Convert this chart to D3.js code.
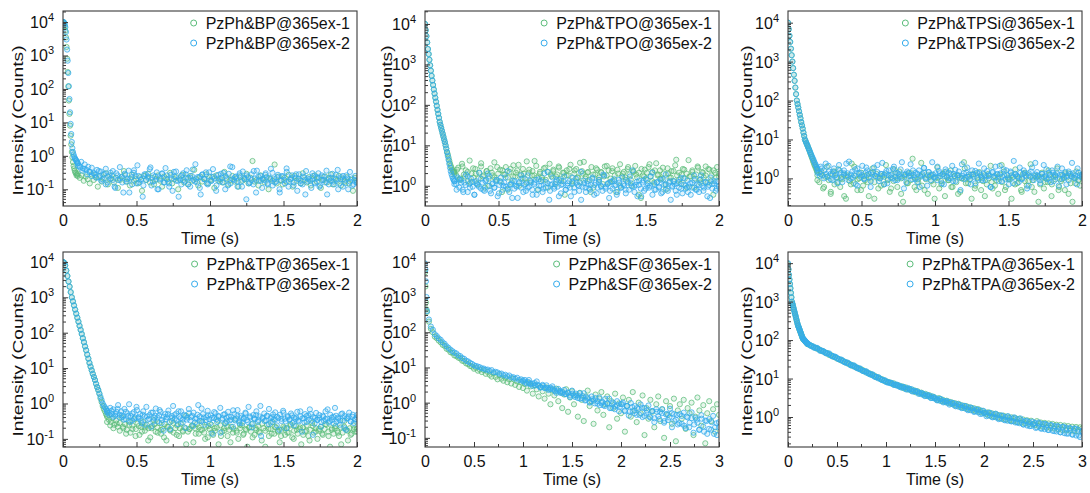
<!DOCTYPE html>
<html>
<head>
<meta charset="utf-8">
<script src="https://cdn.jsdelivr.net/npm/d3@7"></script>
<style>
  body { margin: 0; background: #fff; }
  svg { display: block; font-family: "Liberation Sans", Arial, sans-serif; }
</style>
</head>
<body>
<svg id="chart" width="1090" height="493"></svg>
<script>
// ---- data ----
const hosts = ['BP', 'TPO', 'TPSi', 'TP', 'SF', 'TPA'];
const timeMax = [2, 2, 2, 2, 3, 3];
// y domain as log10 exponents [bottom, top]
const yLogDomain = [[-1.5, 4.33], [-0.5, 4.32], [-0.71, 4.3], [-1.23, 4.28], [-1.26, 4.28], [-0.78, 4.29]];
const yTickExp = [[-1, 4], [0, 4], [0, 4], [-1, 4], [-1, 4], [0, 4]];
// time spans of the sampled segments of every curve
const headSpans = [[0, 0.1], [0, 0.2], [0, 0.2], [0, 0.3], [0, 0.015], [0, 0.2]];
const tailSpans = [[0.1, 2], [0.2, 2], [0.2, 2], [0.3, 2], [0.02, 3], [0.2, 3]];
const extraSpans = [[0.1, 2], [0.2, 2], [0.2, 2], [0.3, 2], [1, 3], [0.2, 3]];

// PzPh&BP
const bp1Head = [10000,9800,9000,7500,5500,3500,1800,800,320,120,45,18,8,4,2.2,1.3,0.9,0.65,0.5,0.42,0.36,0.32,0.3,0.26,0.28,0.25];
const bp2Head = [10000,10000,9500,8500,7000,5000,3000,1500,700,300,120,50,20,9,4.5,2.6,1.7,1.3,1.1,0.95,0.85,0.8,0.75,0.7,0.65,0.6];
const bp1Tail = [.3,.22,.26,.18,.24,.2,.15,.28,.19,.23,.12,.25,.17,.21,.3,.14,.2,.26,.16,.22,
  .11,.19,.24,.35,.17,.21,.13,.27,.18,.2,.15,.23,.09,.25,.19,.29,.16,.22,.14,.2,
  .26,.18,.12,.24,.21,.17,.31,.15,.2,.23,.1,.19,.27,.16,.22,.14,.25,.18,.38,.2,
  .13,.24,.17,.21,.28,.15,.19,.23,.11,.26,.18,.2,.16,.33,.22,.14,.19,.25,.17,.21,
  .12,.24,.18,.2,.29,.15,.22,.7,.17,.19,.13,.26,.2,.16,.23,.1,.21,.18,.55,.15,
  .24,.19,.14,.22,.17,.27,.2,.12,.25,.18,.21,.15,.3,.19,.16,.23,.13,.2,.26,.17,
  .22,.11,.19,.24,.16,.2,.28,.14,.21,.18,.25,.13,.2,.17,.23,.15,.19,.09,.22,.18];
const bp2Tail = [.6,.5,.66,.42,.55,.38,.47,.33,.44,.3,.27,.38,.23,.34,.2,.29,.41,.16,.26,.21,
  .35,.12,.3,.19,.46,.23,.08,.27,.17,.36,.21,.14,.31,.25,.52,.16,.2,.06,.28,.19,
  .24,.4,.13,.26,.18,.32,.1,.22,.29,.16,.43,.2,.15,.27,.09,.24,.34,.18,.21,.14,
  .3,.17,.37,.22,.12,.25,.19,.56,.16,.23,.07,.28,.2,.32,.14,.24,.18,.4,.21,.13,
  .27,.17,.22,.31,.1,.2,.29,.15,.46,.19,.24,.12,.26,.17,.34,.2,.05,.23,.16,.28,
  .14,.21,.36,.18,.25,.11,.19,.3,.15,.22,.41,.13,.2,.17,.27,.08,.18,.24,.15,.33,
  .12,.2,.26,.16,.22,.09,.28,.18,.14,.23,.35,.17,.2,.11,.25,.15,.21,.3,.13,.19,
  .24,.16,.07,.22,.18,.29,.14,.2,.38,.15,.23,.12,.19,.26,.1,.17,.21,.14,.25,.16];
const bp1Extra = [];
const bp2Extra = [.5,.45,.36,.4,.28,.33,.25,.3,.22,.35,.18,.27,.14,.24,.31,.19,.11,.26,.21,.16,
  .29,.2,.08,.23,.37,.15,.25,.19,.13,.28,.22,.45,.17,.24,.1,.2,.3,.16,.26,.12,
  .21,.33,.18,.06,.25,.19,.28,.14,.22,.39,.17,.23,.11,.27,.2,.15,.32,.18,.24,.09,
  .21,.29,.16,.25,.13,.48,.2,.23,.17,.3,.12,.22,.26,.15,.19,.35,.08,.24,.18,.21,
  .27,.14,.2,.31,.16,.23,.1,.25,.19,.42,.17,.22,.13,.28,.2,.15,.24,.07,.21,.18,
  .3,.16,.23,.12,.26,.19,.36,.14,.22,.17,.27,.1,.2,.25,.15,.21,.33,.13,.19,.16];

// PzPh&TPO
const tpo1Head = [10000,7000,5000,3500,2400,1800,1300,950,700,520,400,310,240,190,150,120,95,75,60,48,38,32,27,23,19.5,16.5,14,12,10,8.3,6.8,6,5,4.2,3.6,3.1,2.8,2.5,2.3,2.2,2.1];
const tpo2Head = [10000,7000,5000,3500,2400,1800,1300,950,700,520,400,310,240,190,150,120,95,75,60,48,38,32,27,23,19.5,16.5,14,12,10,8.3,6.8,5.5,4.4,3.5,2.8,2.3,1.95,1.7,1.5,1.4,1.3];
const tpo1Tail = [2.2,1.8,2.8,1.5,3.5,1.9,2.4,1.3,4.2,2,1.6,2.6,1.1,2.1,3,1.7,.9,2.3,1.5,2.7,
  1.8,3.8,1.4,2,2.5,.7,1.9,2.9,1.6,2.2,1.2,3.2,1.7,2.4,1,1.9,2.6,1.5,4,2.1,
  1.3,2.3,1.8,3.1,.8,2,1.6,2.7,1.4,2.2,3.5,1.7,2.5,1.1,1.9,2.8,1.5,2.1,.6,2.4,
  1.8,3.3,1.3,2,2.6,1.6,1.2,2.3,3.9,1.7,2.1,1.4,2.9,.9,1.9,2.5,1.6,2.2,1.1,3,
  1.8,2.4,1.5,2.7,1.3,.7,2,3.4,1.7,2.2,1.4,2.6,1.9,1,2.3,3.1,1.6,2.1,.5,1.8,
  2.5,1.4,2.9,1.7,2.2,1.2,3.6,1.9,2.4,1.5,2,.8,2.7,1.6,2.3,1.3,3.2,1.8,2.1,1.1,
  2.6,1.5,2,4.3,1.7,2.4,.9,1.9,2.8,1.4,2.2,1.6,3,1.2,2.5,1.8,.6,2.1,2.9,1.7];
const tpo2Tail = [1.3,1.1,1.6,.9,1.4,.8,1.2,1.9,.7,1.1,1.5,.95,.6,1.3,1.05,2.1,.85,1.2,.75,1.4,
  1,1.7,.65,1.15,.9,1.3,.55,1.05,1.6,.8,1.2,.95,2.3,.7,1.1,1.35,.85,1,.5,1.25,
  .9,1.5,1.05,.75,1.8,.95,1.2,.6,1.1,1.4,.8,1,1.3,.7,2,.9,1.15,.45,1.05,1.6,
  .85,1.25,.95,1.4,.65,1.1,1.7,.8,1,1.3,.55,1.2,.9,1.5,1.05,.75,2.2,.95,1.15,.7,
  1.3,.85,1.05,1.6,.6,1.2,.9,1.4,1,.75,1.8,.95,1.1,.5,1.25,.85,1.45,1.05,.7,1.2,
  .9,1.6,1,.65,1.3,.8,1.15,2.4,.95,1.05,.55,1.35,.85,1.2,.75,1.5,1,.9,1.7,.6,
  1.1,.8,1.25,.95,1.4,.7,1.05,1.9,.85,1.2,.45,1,1.3,.75,1.15,.9,1.55,.65,1.05,.85,
  1.35,.95,.6,1.2,1.8,.8,1.1,.7,1.45,1,.9,1.25,.55,1.05,1.6,.85,1.15,.75,1.3,.95];
const tpo1Extra = [1.9,2.5,1.4,3,1.7,2.2,1.2,2.7,2,1.5,3.6,1.8,2.3,1,2.1,1.6,2.9,1.3,2.4,1.9,
  .8,2.6,1.7,2.1,3.3,1.5,2,1.2,2.5,1.8,4.1,1.6,2.2,1.4,2.8,.9,1.9,2.3,1.7,3,
  1.3,2.1,1.8,2.6,1.1,2.4,1.6,3.7,2,1.5,2.2,.7,1.9,2.7,1.4,2.1,1.7,3.1,1.2,2.3,
  1.8,2.5,1,2,1.6,2.9,1.4,2.2,1.9,.6,2.6,1.7,2.1,3.4,1.3,2.4,1.8,1.5,2.8,1.1,
  2,1.6,2.3,4.4,1.4,1.9,2.5,.9,1.7,2.2,1.5,3,1.2,2.1,1.8,2.6,1.3,2.4,1.6,2];
const tpo2Extra = [1.1,.8,1.45,1.2,.7,1.05,1.7,.9,1.25,.6,1.15,.95,1.5,.8,1.3,2,.75,1.1,.9,1.4,
  .65,1.2,1,1.6,.85,1.05,.5,1.3,.95,1.15,1.8,.7,1.1,.9,1.35,.8,1.2,.6,1.45,1,
  .85,1.25,2.2,.75,1.1,.95,1.4,.55,1.05,1.3,.8,1.15,.9,1.6,.7,1.2,1,.45,1.35,.9,
  1.1,.8,1.5,1.05,.65,1.25,.95,1.9,.85,1.15,.75,1.3,1,.6,1.4,.9,1.1,.8,1.2,1.7,
  .95,.7,1.25,1.05,.55,1.35,.85,1.15,1,2.1,.8,1.2,.9,.65,1.45,1.05,.75,1.3,.95,1.1,
  .6,1.25,.85,1.55,1,.7,1.15,.9,1.35,.8,1.05,1.8,.75,1.2,.95,.5,1.1,1.3,.85,1];

// PzPh&TPSi
const tpsi1Head = [10000,6800,4600,3200,2150,1460,1000,680,460,320,215,146,100,81,66,53,43,35,28,23,19,15,12.3,10,9,8.1,7.3,6.6,5.9,5.3,4.6,4.1,3.6,3.2,2.8,2.5,2.2,2,1.8,1.6,1.5];
const tpsi2Head = [10000,6800,4600,3200,2150,1460,1000,680,460,320,215,146,100,81,66,53,43,35,28,23,19,15,12.3,10,9,8.1,7.3,6.6,5.9,5.3,4.8,4.3,3.9,3.5,3.2,2.9,2.6,2.35,2.15,1.95,1.8];
const tpsi1Tail = [1.2,.8,1.5,.55,1.1,2,.9,.4,1.3,.7,1.05,1.7,.6,.95,1.25,.3,1.1,.85,2.4,.75,
  1.15,.5,1,1.4,.65,.9,1.2,.35,1.05,1.8,.8,1.3,.55,1,1.15,.7,2.2,.95,.45,1.25,
  .85,1.1,.6,1.5,1,.25,1.2,.75,1.35,.9,3.2,1.05,.5,.8,1.15,.65,1.4,.95,.4,1.1,
  1.25,.7,1,1.9,.55,.85,1.3,.35,1.05,.9,1.6,.6,1.15,.8,1.2,.45,1,2.6,.75,1.1,
  .95,.3,1.3,.65,1.05,1.45,.5,.85,1.2,.7,1,2.1,.55,1.15,.9,.4,1.25,.8,1.5,.6,
  1.05,.95,.3,1.1,1.7,.75,1,.5,1.3,.85,.65,1.2,2.3,.9,.45,1.05,1.15,.7,1.4,.55,
  1,.8,1.25,.35,1.1,.95,1.8,.6,.85,1.2,.5,1.05,1.35,.75,.25,1,1.5,.9,.65,1.15];
const tpsi2Tail = [1.7,1.4,2,1.2,1.6,2.4,1.1,1.5,1.3,.9,1.8,1.25,1.05,2.2,1.4,.8,1.6,1.15,1.35,2.7,
  1,1.5,1.2,.7,1.8,1.3,1.1,2.1,.95,1.4,1.6,1.05,.6,1.25,1.9,1.15,1.45,.85,1.3,2.5,
  1.1,1.35,.75,1.6,1.2,1,2,1.4,.9,1.25,1.7,1.05,.55,1.3,1.5,1.15,2.3,.95,1.2,1.4,
  .8,1.6,1.1,1.3,1.85,1,.65,1.45,1.2,2.6,1.05,1.35,.9,1.55,1.15,1.25,.7,1.7,1.1,1.4,
  1,2.1,1.3,.85,1.2,1.5,.5,1.15,1.35,1.05,1.9,1.25,.95,1.6,1.1,.75,1.4,2.4,1.2,1,
  1.3,.9,1.55,1.15,.6,1.45,1.05,2,1.25,.85,1.35,1.1,1.7,.95,1.2,.7,1.5,1.05,2.8,1.3,
  1.15,.8,1.4,1,1.6,1.2,.55,1.35,1.1,1.9,.9,1.25,1.45,1.05,.75,1.3,2.2,1.15,.95,1.4,
  1.2,1.6,.85,1.1,1.35,.65,1.25,1.8,1,1.45,1.15,.9,1.3,2.5,1.05,1.2,.7,1.4,1.1,1.25];
const tpsi1Extra = [.9,1.3,.6,1.1,.45,1.5,.8,1,.35,1.2,.7,2,.95,.5,1.15,.8,1.4,.3,1.05,.65,
  1.25,.9,.55,1.7,1,.4,1.1,.75,1.35,.6,.95,2.5,.5,1.2,.85,.3,1.05,.7,1.45,.9,
  .6,1.15,.4,1,1.8,.75,1.25,.55,.9,1.1,.35,1.3,.8,.65,1.05,2.2,.5,.95,1.2,.7,
  1,.45,1.4,.85,.6,1.15,.25,1.05,.8,1.6,.7,1.2,.5,.95,1.35,.4,1.1,.75,.9,1.25];
const tpsi2Extra = [1.4,1.15,1.8,1,1.3,2.1,.95,1.5,1.2,.75,1.6,1.1,1.35,2.4,.9,1.25,1.05,1.7,.65,1.4,
  1.2,1,1.9,1.3,.85,1.45,1.15,2.2,1,1.3,.7,1.55,1.2,1.05,1.75,.9,1.35,1.1,2.6,1.25,
  .8,1.4,1.15,1.6,.95,1.3,.6,1.2,1.85,1.05,1.45,.9,1.25,1.1,2,1.35,.75,1.15,1.5,1,
  1.3,.85,1.65,1.2,1.05,2.3,.95,1.4,1.1,.7,1.25,1.55,1,1.35,.9,1.8,1.15,1.2,.6,1.45,
  1.05,1.3,2.1,.85,1.2,1.6,1,1.4,.75,1.25,1.1,1.9,.95,1.35,1.15,.65,1.5,1.05,2.5,1.2,
  .9,1.3,1.1,1.7,1,.8,1.4,1.2,2,.95,1.25,1.1,.7,1.5,1.15,1.35,1,1.8,1.2,1.05];

// PzPh&TP
const tp1Head = [10000,9500,8000,5700,4000,2800,2000,1400,1000,770,590,450,345,265,205,156,120,92,70,54,41,32,24,18.5,14,11,8.7,6.9,5.6,4.6,3.6,2.9,2.4,1.9,1.4,1.1,0.85,0.7,0.6,0.5,0.45];
const tp2Head = [10000,9500,8000,5700,4000,2800,2000,1400,1000,770,590,450,345,265,205,156,120,92,70,54,41,32,24,18.5,14,11,8.7,6.9,5.6,4.6,3.6,2.9,2.4,1.9,1.55,1.25,1,0.87,0.78,0.7,0.63];
const tp1Tail = [.42,.35,.3,.38,.25,.33,.22,.28,.4,.2,.26,.18,.31,.15,.24,.36,.19,.27,.13,.22,
  .3,.17,.25,.2,.11,.23,.34,.16,.21,.28,.14,.19,.26,.09,.22,.18,.32,.15,.2,.24,
  .12,.27,.17,.21,.45,.16,.19,.23,.08,.2,.26,.14,.18,.3,.15,.22,.11,.19,.25,.13,
  .17,.21,.07,.24,.16,.2,.28,.12,.18,.22,.15,.35,.17,.1,.2,.24,.14,.19,.06,.21,
  .16,.27,.13,.18,.23,.15,.09,.2,.17,.25,.12,.19,.3,.14,.21,.16,.08,.18,.22,.13,
  .2,.15,.26,.11,.17,.23,.14,.19,.07,.21,.16,.24,.12,.18,.28,.15,.2,.1,.17,.22,
  .13,.19,.25,.16,.06,.2,.14,.23,.17,.12,.21,.15,.32,.18,.09,.2,.14,.24,.16,.19];
const tp2Tail = [.62,.55,.75,.5,.68,.45,.58,.9,.48,.6,.42,.7,.36,.52,.95,.44,.33,.57,.4,.65,
  .38,.5,.28,.6,.43,.8,.35,.47,.22,.55,.39,.72,.31,.46,.58,.34,.17,.5,.41,.63,
  .3,.44,.85,.37,.52,.26,.42,.6,.35,.48,.2,.4,.7,.33,.45,.55,.29,.38,.9,.43,
  .32,.5,.25,.41,.62,.36,.46,.14,.39,.53,.3,.44,.75,.35,.48,.27,.4,.58,.33,.42,
  .22,.5,.37,.65,.31,.45,.28,.39,.55,.34,.8,.4,.26,.47,.36,.6,.3,.43,.12,.38,
  .52,.33,.45,.7,.29,.41,.35,.56,.24,.39,.48,.32,.62,.37,.2,.44,.34,.52,.28,.4,
  .36,.58,.31,.43,.16,.38,.5,.3,.46,.68,.33,.41,.27,.54,.35,.39,.22,.45,.32,.6,
  .37,.29,.48,.34,.42,.75,.3,.4,.25,.5,.33,.44,.18,.38,.55,.31,.42,.28,.36,.47];
const tp1Extra = [.3,.24,.2,.27,.17,.22,.14,.25,.19,.12,.23,.16,.21,.09,.2,.26,.15,.18,.11,.22,
  .17,.28,.13,.2,.16,.07,.19,.24,.14,.21,.18,.1,.23,.15,.2,.33,.12,.17,.22,.08,
  .19,.15,.25,.13,.18,.21,.11,.2,.16,.27,.06,.19,.14,.22,.17,.12,.2,.15,.24,.1,
  .18,.21,.13,.17,.09,.23,.16,.19,.14,.26,.12,.18,.2,.15,.07,.22,.17,.13,.19,.16];
const tp2Extra = [.55,.48,.62,.42,.5,.7,.4,.46,.35,.58,.44,.3,.52,.38,.8,.41,.33,.48,.25,.43,
  .37,.55,.31,.45,.4,.65,.28,.42,.36,.5,.19,.39,.47,.33,.6,.38,.29,.44,.35,.53,
  .41,.23,.37,.48,.32,.72,.4,.34,.46,.27,.39,.57,.36,.43,.15,.38,.5,.31,.42,.35,
  .64,.33,.45,.28,.4,.37,.52,.3,.43,.21,.38,.47,.34,.85,.4,.32,.44,.26,.39,.49,
  .35,.42,.18,.37,.55,.31,.41,.36,.46,.24,.4,.33,.6,.38,.29,.44,.35,.5,.13,.39,
  .34,.47,.3,.42,.36,.68,.32,.4,.27,.45,.37,.33,.52,.2,.38,.43,.31,.48,.35,.4];

// PzPh&SF
const sf1Head = [5000,2000,700,450];
const sf2Head = [9000,6000,2800,1000];
const sf1Tail = [380,200,125,100,75,68,58,52,44,41,
  34,32,27,26,22,21,19,18,15.5,15,
  13,12.5,11,10.6,9.2,9.8,8.1,8.7,7.4,8.4,
  6.6,7.5,6.2,5.5,6.8,5.4,4.6,6,4.8,4.2,
  5.1,3.8,4.6,3.5,4.8,3.2,4,2.8,3.9,2.6,
  3.4,2.2,3.6,2.9,1.8,3.1,2.4,1.5,2.8,2.1,
  1.3,2.7,1.8,.9,2.3,1.6,2.5,1.1,2,.7,
  1.7,2.4,.55,1.4,2.1,.9,1.6,.4,1.9,1.2,
  .3,1.5,2.2,.8,1.1,.25,1.7,.6,1.3,2,
  .45,.9,1.5,.2,1.1,.7,1.8,.35,.95,.5,
  1.4,.15,.8,1.2,.4,2,.6,.28,1,.5,
  1.6,.12,.7,.35,1.2,.55,.2,.9,1.5,.3,
  .65,.1,1.1,.45,.8,.25,1.3,.08,.6,.9,
  .35,1.2,.18,.7,.5,1,.12,.4,1.4,.6,
  .22,.85,.07,.5,1.1,.3,.65,.15,.9,.45];
const sf2Tail = [400,230,145,118,88,78,67,61,52,47,
  40,36,32,29,26.5,25,22,21,18.5,17.5,
  15.5,14.8,13.5,12.6,11.5,11,10.6,10.1,9.4,9.3,
  8.6,8.7,8,8.4,7.3,7.5,7.2,6.6,6.7,6,
  6.2,5.6,5.9,5.2,5.3,4.8,5.1,4.4,4.6,4.3,
  4.4,3.5,4.4,3.5,3,3.6,4,3,2.7,3.2,
  2.6,3.1,2.3,2.65,2.9,2.25,1.9,2.45,2.15,1.85,
  2.3,1.75,1.95,1.45,2.2,1.6,1.8,1.35,1.85,1.35,
  1.85,1.2,1.4,1,1.5,1.15,1.35,.93,1.4,.98,
  .84,1.28,.94,1.3,.7,1,.78,1.1,.57,.91,
  1,.57,.81,.43,.98,.58,.8,.45,.66,.89,
  .39,.7,.51,.83,.38,.58,.28,.65,.41,.55,
  .65,.27,.46,.32,.67,.2,.47,.33,.24,.47,
  .25,.52,.19,.38,.27,.53,.14,.37,.27,.17,
  .44,.21,.31,.13,.34,.17,.42,.2,.12,.28];
const sf1Extra = [];
const sf2Extra = [4,3.7,3.9,3.3,3.5,3.1,3.2,2.7,3,2.6,2.6,2.4,2.5,2.1,2.2,1.9,2,1.75,1.9,1.6,
  1.8,1.45,1.6,1.3,1.55,1.15,1.3,1.05,1.25,.95,1.1,.85,1.05,.8,.95,.7,.9,.65,.85,.75,
  .9,.6,.8,.55,.75,.5,.7,.45,.72,.42,.6,.4,.58,.36,.55,.34,.5,.3,.48,.38,
  .5,.3,.45,.26,.42,.22,.4,.2,.36,.24,.33,.17,.35,.15,.3,.18,.28,.13,.26,.2];

// PzPh&TPA
const tpa1Head = [9500,6800,4900,3700,2850,2200,1680,1280,990,880,790,700,620,555,495,445,395,350,312,278,248,228,213,195,180,166,153,141,130,120,110,107,104,100,97,93,90,87,84,81,79];
const tpa2Head = [10000,7000,5000,3800,2900,2250,1700,1300,1000,890,800,710,630,560,500,450,400,355,315,280,250,230,215,197,182,168,155,143,132,122,112,108,105,101,98,94,91,88,85,82,80];
const tpa1Tail = [80,74,71,66,63,59,57,52,51,47,46,41,40.5,37,36,33,32,29.6,29,26.5,26,23.8,23.2,21.2,21,19,18.6,17,16.8,15.2,15,13.6,13.4,12.2,12,10.8,10.7,9.8,9.6,8.7,8.6,
  8.1,7.9,7.3,7.5,6.7,6.8,6.2,6.3,5.6,5.9,5.2,5.4,4.8,5,4.4,4.7,4.1,4.3,3.8,4,3.5,3.7,3.2,3.4,3.1,
  2.8,3.1,2.6,2.8,2.45,2.65,2.3,2.45,2.15,2.3,1.95,2.2,1.82,2,1.7,1.92,1.6,1.78,1.5,1.68,1.42,1.6,1.35,1.45,1.27,
  1.2,1.32,1.08,1.25,1.02,1.2,.96,1.12,.9,1.08,.86,1.03,.82,.98,.78,.94,.74,.9,.71,.86,.68,.82,.66,.8,.64,
  .62,.78,.58,.72,.56,.7,.53,.68,.52,.66,.5,.63,.48,.62,.46,.6,.45,.58,.44,.56,.43,.55,.42,.54,.5];
const tpa2Tail = [79,76,70,68,62,61,56,54,50,48,45,43,39.5,38.5,35.5,34.5,31.5,30.8,28.2,27.4,25,24.6,22.4,22,20,19.7,17.8,17.5,16,15.6,14.2,14,12.7,12.5,11.3,11.2,10.1,10,9.1,8.9,8.1,
  8.2,7.6,7.6,7,7,6.4,6.5,5.8,6,5.4,5.7,5.1,5.3,4.7,4.6,4.5,4.3,3.9,4,3.6,3.8,3.4,3.5,3.1,3,
  3,2.7,2.9,2.55,2.6,2.35,2.5,2.2,2.3,2,2.2,1.85,2.05,1.75,1.9,1.62,1.8,1.5,1.68,1.42,1.58,1.33,1.5,1.22,1.3,
  1.3,1.1,1.25,1.02,1.18,.98,1.12,.92,1.06,.86,1,.8,.95,.77,.92,.72,.87,.69,.82,.64,.78,.6,.74,.58,.66,
  .7,.54,.68,.5,.66,.48,.63,.46,.6,.44,.58,.42,.56,.4,.55,.38,.52,.37,.5,.35,.5,.33,.47,.3,.42];
const tpa1Extra = [];
const tpa2Extra = [82,71,64,63,53,52,45,45,38,37,32,31,26.5,26,22,22,18.8,18.3,15.6,15.4,
  13.2,12.9,11,10.8,9.3,9.1,7.8,7.8,6.8,6.9,6,6.1,5.2,5.4,4.6,4.8,4,4.2,3.5,3.6,
  3.1,3.3,2.7,2.95,2.4,2.6,2.1,2.35,1.9,2.1,1.7,1.95,1.5,1.75,1.35,1.55,1.2,1.45,1.05,1.3,
  .98,1.22,.88,1.1,.82,1.05,.78,.98,.72,.92,.64,.8,.58,.76,.52,.72,.5,.66,.46,.62,
  .43,.58,.4,.56,.37,.52,.35,.5,.33,.44];

const run1 = [[bp1Head, bp1Tail, bp1Extra], [tpo1Head, tpo1Tail, tpo1Extra], [tpsi1Head, tpsi1Tail, tpsi1Extra],
  [tp1Head, tp1Tail, tp1Extra], [sf1Head, sf1Tail, sf1Extra], [tpa1Head, tpa1Tail, tpa1Extra]];
const run2 = [[bp2Head, bp2Tail, bp2Extra], [tpo2Head, tpo2Tail, tpo2Extra], [tpsi2Head, tpsi2Tail, tpsi2Extra],
  [tp2Head, tp2Tail, tp2Extra], [sf2Head, sf2Tail, sf2Extra], [tpa2Head, tpa2Tail, tpa2Extra]];

// ---- layout ----
const colLeft = [63, 425, 788];
const rowTop = [11, 252];
const plotW = 294, plotH = 195;
const titleGap = [45, 38, 41];
const colors = ['#5cbd7b', '#35acec'];
const axisColor = '#3a3a3a';

const svg = d3.select('#chart');

// samples of a segment are evenly spaced over its time span
function samples(span, values) {
  const step = values.length > 1 ? (span[1] - span[0]) / (values.length - 1) : 0;
  return values.map((v, i) => ({ t: span[0] + i * step, v }));
}

hosts.forEach((host, k) => {
  const col = k % 3, row = Math.floor(k / 3);
  const g = svg.append('g').attr('transform', `translate(${colLeft[col]},${rowTop[row]})`);

  const x = d3.scaleLinear().domain([0, timeMax[k]]).range([0, plotW]);
  const y = d3.scaleLog().domain(yLogDomain[k].map(e => Math.pow(10, e))).range([plotH, 0]);

  const clipId = 'clip' + k;
  g.append('clipPath').attr('id', clipId)
    .append('rect').attr('width', plotW).attr('height', plotH);

  const pts = g.append('g').attr('clip-path', `url(#${clipId})`);
  [run1[k], run2[k]].forEach((segs, s) => {
    const data = samples(headSpans[k], segs[0])
      .concat(samples(tailSpans[k], segs[1]))
      .concat(samples(extraSpans[k], segs[2]));
    pts.append('g').selectAll('circle').data(data).join('circle')
      .attr('cx', d => x(d.t))
      .attr('cy', d => y(d.v))
      .attr('r', 2.6)
      .attr('fill', colors[s])
      .attr('fill-opacity', 0.15)
      .attr('stroke', colors[s])
      .attr('stroke-opacity', 0.85)
      .attr('stroke-width', 0.9);
  });

  // x axis: inward ticks, majors every 0.5 and minors in between
  const xMajor = d3.range(0, timeMax[k] + 0.001, 0.5);
  const xMinor = d3.range(0.25, timeMax[k], 0.5);
  const xAxis = g.append('g').attr('transform', `translate(0,${plotH})`)
    .call(d3.axisBottom(x).tickValues(xMajor).tickSize(-5).tickPadding(9).tickFormat(d => String(d)));
  xAxis.selectAll('.tick text').attr('font-size', 16).attr('fill', '#111');
  xAxis.selectAll('line').attr('stroke', axisColor);
  xAxis.select('.domain').remove();
  g.append('g').selectAll('line').data(xMinor).join('line')
    .attr('x1', d => x(d)).attr('x2', d => x(d))
    .attr('y1', plotH).attr('y2', plotH - 3)
    .attr('stroke', axisColor);

  // y axis: log decades with superscript labels
  const exps = d3.range(yTickExp[k][0], yTickExp[k][1] + 1);
  const yAxis = g.append('g')
    .call(d3.axisLeft(y).tickValues(exps.map(e => Math.pow(10, e))).tickSize(-5).tickFormat(''));
  yAxis.selectAll('line').attr('stroke', axisColor);
  yAxis.select('.domain').remove();
  const minors = [];
  for (let e = Math.floor(yLogDomain[k][0]); e < yLogDomain[k][1]; e++) {
    for (let m = 2; m < 10; m++) {
      const v = m * Math.pow(10, e);
      if (Math.log10(v) > yLogDomain[k][0] && Math.log10(v) < yLogDomain[k][1]) minors.push(v);
    }
  }
  g.append('g').selectAll('line').data(minors).join('line')
    .attr('x1', 0).attr('x2', 3)
    .attr('y1', d => y(d)).attr('y2', d => y(d))
    .attr('stroke', axisColor);

  const ylab = g.append('g').selectAll('text').data(exps).join('text')
    .attr('x', -9)
    .attr('y', e => y(Math.pow(10, e)) + 6)
    .attr('text-anchor', 'end')
    .attr('font-size', 16)
    .attr('fill', '#111');
  ylab.append('tspan').text('10');
  ylab.append('tspan').attr('dy', -7).attr('font-size', 11).text(e => String(e));

  // frame
  g.append('rect').attr('width', plotW).attr('height', plotH)
    .attr('fill', 'none').attr('stroke', axisColor).attr('stroke-width', 1.1);

  // axis titles
  g.append('text')
    .attr('x', plotW / 2).attr('y', plotH + 38)
    .attr('text-anchor', 'middle').attr('font-size', 16).attr('fill', '#111')
    .text('Time (s)');
  g.append('text')
    .attr('transform', `translate(${-titleGap[col]},${plotH / 2 + 12}) rotate(-90)`)
    .attr('text-anchor', 'middle').attr('dy', '0.35em')
    .attr('font-size', 15).attr('fill', '#111')
    .attr('textLength', 150).attr('lengthAdjust', 'spacingAndGlyphs')
    .text('Intensity (Counts)');

  // legend, right aligned in the top corner
  ['1', '2'].forEach((n, s) => {
    const cy = 12 + s * 20;
    const label = g.append('text')
      .attr('x', plotW - 7).attr('y', cy + 5.5)
      .attr('text-anchor', 'end').attr('font-size', 16).attr('fill', '#111')
      .text(`PzPh&${host}@365ex-${n}`);
    const w = label.node().getComputedTextLength();
    g.append('circle')
      .attr('cx', plotW - 7 - w - 12).attr('cy', cy)
      .attr('r', 3)
      .attr('fill', 'none')
      .attr('stroke', colors[s])
      .attr('stroke-width', 1);
  });
});
</script>
</body>
</html>
